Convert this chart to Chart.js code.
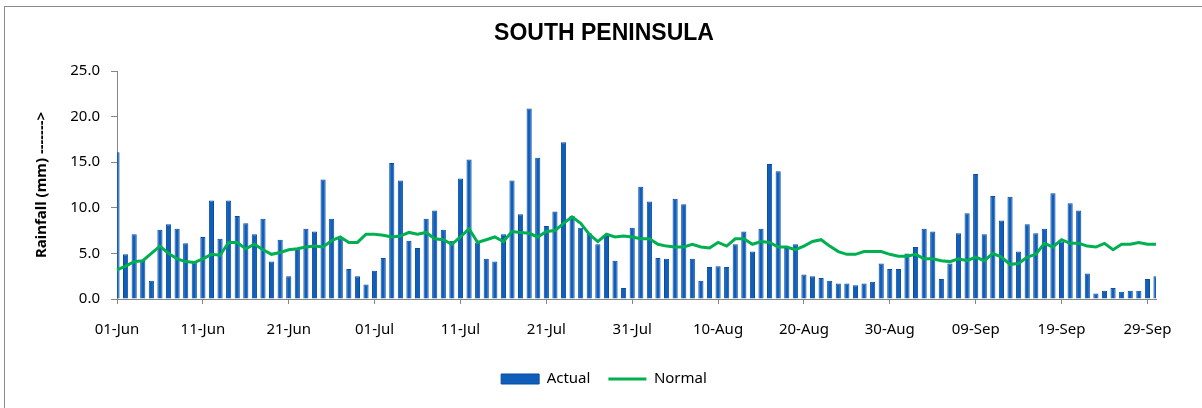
<!DOCTYPE html>
<html>
<head>
<meta charset="utf-8">
<title>South Peninsula rainfall</title>
<script src="https://cdn.jsdelivr.net/npm/chart.js@4/dist/chart.umd.min.js"></script>
<style>
  html, body { margin: 0; padding: 0; background: #fff; overflow: hidden; }
  #frame { position: absolute; left: 4px; top: 6px; width: 1400px; height: 600px; border: 1px solid #8c8c8c; }
  #wrap { position: absolute; left: 0; top: 0; width: 1202px; height: 408px; }
</style>
</head>
<body>
<div id="frame"></div>
<div id="wrap"><canvas id="chart" width="1202" height="408"></canvas></div>
<script>
/* daily rainfall, 01-Jun .. 30-Sep */

const MONTHS = ['Jun', 'Jul', 'Aug', 'Sep'];
const MONTH_DAYS = [30, 31, 31, 30];

const actual = [
  16.1, 4.9, 7.1, 4.2, 2.0, 7.6, 8.2, 7.7, 6.1, 4.0,
  6.8, 10.8, 6.6, 10.8, 9.1, 8.3, 7.1, 8.8, 4.1, 6.5,
  2.5, 5.5, 7.7, 7.4, 13.1, 8.8, 6.6, 3.3, 2.5, 1.6,
  3.1, 4.5, 14.9, 13.0, 6.4, 5.6, 8.8, 9.7, 7.6, 6.4,
  13.2, 15.3, 6.2, 4.4, 4.1, 7.1, 13.0, 9.3, 20.9, 15.5,
  8.0, 9.6, 17.2, 9.1, 7.8, 7.2, 6.0, 6.9, 4.2, 1.2,
  7.8, 12.3, 10.7, 4.5, 4.4, 11.0, 10.4, 4.4, 2.0, 3.5,
  3.6, 3.5, 6.0, 7.4, 5.2, 7.7, 14.8, 14.0, 5.6, 6.0,
  2.7, 2.5, 2.3, 2.0, 1.7, 1.7, 1.5, 1.7, 1.9, 3.9,
  3.3, 3.3, 5.0, 5.7, 7.7, 7.4, 2.2, 3.9, 7.2, 9.4,
  13.7, 7.1, 11.3, 8.6, 11.2, 5.2, 8.2, 7.2, 7.7, 11.6,
  6.3, 10.5, 9.7, 2.8, 0.6, 0.9, 1.2, 0.8, 0.9, 0.9,
  2.2, 2.5
];

const normal = [
  3.2, 3.6, 4.1, 4.2, 5.0, 5.8, 5.0, 4.4, 4.1, 4.0,
  4.4, 4.9, 4.8, 6.2, 6.2, 5.5, 6.0, 5.4, 4.9, 5.1,
  5.4, 5.5, 5.7, 5.8, 5.7, 6.4, 6.8, 6.2, 6.2, 7.1,
  7.1, 7.0, 6.8, 6.9, 7.3, 7.1, 7.3, 6.6, 6.5, 6.0,
  6.8, 7.7, 6.2, 6.5, 6.8, 6.3, 7.4, 7.3, 7.2, 6.8,
  7.4, 7.5, 8.3, 9.0, 8.3, 7.1, 6.3, 7.1, 6.8, 6.9,
  6.8, 6.6, 6.6, 6.0, 5.8, 5.7, 5.7, 6.0, 5.7, 5.6,
  6.2, 5.8, 6.6, 6.6, 6.0, 6.3, 6.2, 5.7, 5.7, 5.4,
  5.8, 6.3, 6.5, 5.8, 5.2, 4.9, 4.9, 5.2, 5.2, 5.2,
  4.9, 4.7, 4.7, 4.9, 4.4, 4.4, 4.2, 4.1, 4.4, 4.2,
  4.6, 4.2, 5.0, 4.6, 3.8, 3.9, 4.6, 4.9, 6.1, 5.7,
  6.5, 6.1, 6.1, 5.8, 5.7, 6.1, 5.4, 6.0, 6.0, 6.2,
  6.0, 6.0
];

// category labels dd-Mon
const days = [];
MONTHS.forEach((m, mi) => {
  for (let d = 1; d <= MONTH_DAYS[mi]; d++) {
    days.push((d < 10 ? '0' : '') + d + '-' + m);
  }
});

const TICK_EVERY = 10;
const AXIS_GREY = '#868686';
const tickFont = { family: '"Noto Sans", sans-serif', size: 15 };

// left padding centres title + legend like the original; y axis fills the rest up to x=117
const PAD_LEFT = 52;

new Chart(document.getElementById('chart'), {
  data: {
    labels: days,
    datasets: [
      {
        type: 'bar',
        label: 'Actual',
        data: actual,
        backgroundColor: '#0f5eba',
        borderColor: '#0a4ba3',
        borderWidth: 1,
        barPercentage: 0.6,
        categoryPercentage: 1,
        pointStyle: 'rect',
        order: 1,
      },
      {
        type: 'line',
        label: 'Normal',
        data: normal,
        borderColor: '#00b050',
        backgroundColor: '#00b050',
        borderWidth: 3,
        pointRadius: 0,
        tension: 0,
        fill: false,
        pointStyle: 'line',
        order: 0,
      },
    ],
  },
  options: {
    responsive: false,
    animation: false,
    layout: { padding: { left: PAD_LEFT, right: 46, top: 0, bottom: 11.5 } },
    plugins: {
      title: {
        display: true,
        text: 'SOUTH PENINSULA',
        color: '#000',
        font: { family: '"Liberation Sans", Arial, sans-serif', size: 23, weight: 'bold' },
        padding: { top: 20, bottom: 23.4 },
      },
      legend: {
        position: 'bottom',
        labels: {
          usePointStyle: true,
          pointStyleWidth: 38,
          boxHeight: 10,
          padding: 18,
          color: '#000',
          font: tickFont,
          sort: (a, b) => a.datasetIndex - b.datasetIndex,
        },
      },
      tooltip: { enabled: false },
    },
    scales: {
      x: {
        type: 'category',
        offset: false,
        afterFit: s => { s.height = 54.5; },
        grid: {
          offset: false,
          drawOnChartArea: false,
          drawTicks: true,
          tickLength: 5,
          color: ctx => (ctx.index % TICK_EVERY === 0 ? AXIS_GREY : 'rgba(0,0,0,0)'),
        },
        border: { display: true, color: AXIS_GREY },
        ticks: {
          autoSkip: false,
          maxRotation: 0,
          minRotation: 0,
          padding: 17,
          color: '#000',
          font: tickFont,
          callback: (v, i) => (i % TICK_EVERY === 0 ? days[i] : ''),
        },
      },
      y: {
        min: 0,
        max: 25,
        afterFit: s => { s.width = 117 - PAD_LEFT; },
        grid: { drawOnChartArea: false, drawTicks: true, tickLength: 6, color: AXIS_GREY },
        border: { display: true, color: AXIS_GREY },
        ticks: {
          stepSize: 5,
          padding: 11,
          color: '#000',
          font: tickFont,
          callback: v => v.toFixed(1),
        },
        title: {
          display: true,
          text: 'Rainfall (mm) ------->',
          color: '#000',
          font: { family: '"Noto Sans", sans-serif', size: 15, weight: 'bold' },
          // title centre sits at x≈42, left of the padded area
          padding: { top: 42 - PAD_LEFT - 9, bottom: 0 },
        },
      },
    },
  },
});
</script>
</body>
</html>
